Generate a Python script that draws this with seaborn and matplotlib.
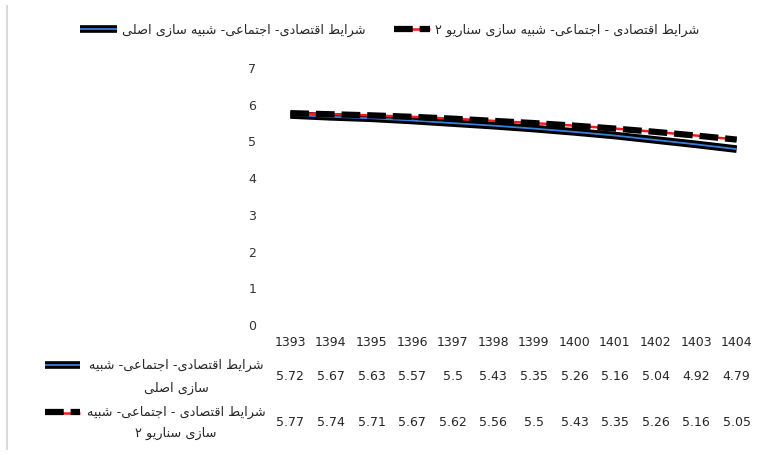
import matplotlib
matplotlib.use("Agg")
import matplotlib.pyplot as plt
import seaborn as sns
import pandas as pd
from matplotlib.lines import Line2D
from matplotlib.legend_handler import HandlerTuple
from matplotlib.transforms import blended_transform_factory

years = ["1393", "1394", "1395", "1396", "1397", "1398",
         "1399", "1400", "1401", "1402", "1403", "1404"]
base_values = [5.72, 5.67, 5.63, 5.57, 5.5, 5.43, 5.35, 5.26, 5.16, 5.04, 4.92, 4.79]
scenario_values = [5.77, 5.74, 5.71, 5.67, 5.62, 5.56, 5.5, 5.43, 5.35, 5.26, 5.16, 5.05]
y_ticks = [0, 1, 2, 3, 4, 5, 6, 7]

base_name = "شرایط اقتصادی- اجتماعی- شبیه سازی اصلی"
scenario_name = "شرایط اقتصادی - اجتماعی- شبیه سازی سناریو ۲"
base_label_lines = ["شرایط اقتصادی- اجتماعی- شبیه", "سازی اصلی"]
scenario_label_lines = ["شرایط اقتصادی - اجتماعی- شبیه", "سازی سناریو ۲"]

# matplotlib has no arabic shaping, so pick the joined glyph forms by hand
# (isolated, final, initial, medial)
FORMS = {
    "ا": ("\uFE8D", "\uFE8E"),
    "د": ("\uFEA9", "\uFEAA"),
    "ر": ("\uFEAD", "\uFEAE"),
    "ز": ("\uFEAF", "\uFEB0"),
    "و": ("\uFEED", "\uFEEE"),
    "ب": ("\uFE8F", "\uFE90", "\uFE91", "\uFE92"),
    "ت": ("\uFE95", "\uFE96", "\uFE97", "\uFE98"),
    "ج": ("\uFE9D", "\uFE9E", "\uFE9F", "\uFEA0"),
    "س": ("\uFEB1", "\uFEB2", "\uFEB3", "\uFEB4"),
    "ش": ("\uFEB5", "\uFEB6", "\uFEB7", "\uFEB8"),
    "ص": ("\uFEB9", "\uFEBA", "\uFEBB", "\uFEBC"),
    "ط": ("\uFEC1", "\uFEC2", "\uFEC3", "\uFEC4"),
    "ع": ("\uFEC9", "\uFECA", "\uFECB", "\uFECC"),
    "ق": ("\uFED5", "\uFED6", "\uFED7", "\uFED8"),
    "ل": ("\uFEDD", "\uFEDE", "\uFEDF", "\uFEE0"),
    "م": ("\uFEE1", "\uFEE2", "\uFEE3", "\uFEE4"),
    "ن": ("\uFEE5", "\uFEE6", "\uFEE7", "\uFEE8"),
    "ه": ("\uFEE9", "\uFEEA", "\uFEEB", "\uFEEC"),
    "ی": ("\uFBFC", "\uFBFD", "\uFBFE", "\uFBFF"),
}


def shape(s):  # logical persian string -> visual order with joined forms
    out = []
    for i, c in enumerate(s):
        if c not in FORMS:
            out.append(c)
            continue
        f = FORMS[c]
        prev = s[i - 1] if i > 0 else ""
        nxt = s[i + 1] if i + 1 < len(s) else ""
        jp = prev in FORMS and len(FORMS[prev]) == 4
        jn = len(f) == 4 and nxt in FORMS
        if jp and jn:
            out.append(f[3])
        elif jn:
            out.append(f[2])
        elif jp:
            out.append(f[1])
        else:
            out.append(f[0])
    return "".join(reversed(out))


sns.set_style("white")
plt.rcParams["font.family"] = ["DejaVu Sans"]
plt.rcParams["lines.solid_capstyle"] = "butt"
plt.rcParams["lines.dash_capstyle"] = "butt"

df = pd.DataFrame({"pos": range(len(years)), "base": base_values, "scenario": scenario_values})

fig = plt.figure(figsize=(7.65, 4.55), dpi=100)
ax = fig.add_axes([270 / 765, 1 - 325 / 455, 487 / 765, 257 / 455])

blue = "#3b7ddd"
red = "#ff1a1a"
dash = (0, (3, 1.1))
sns.lineplot(data=df, x="pos", y="base", color="black", lw=5.5, ax=ax)
h_base_black = ax.lines[-1]
sns.lineplot(data=df, x="pos", y="base", color=blue, lw=1.3, ax=ax)
h_base_blue = ax.lines[-1]
sns.lineplot(data=df, x="pos", y="scenario", color=red, lw=1.8, ax=ax)
h_sc_red = ax.lines[-1]
sns.lineplot(data=df, x="pos", y="scenario", color="black", lw=4.5, linestyle=dash, ax=ax)
h_sc_black = ax.lines[-1]

ax.set_xlim(-0.5, len(years) - 0.5)
ax.set_ylim(0, 7)
ax.set_yticks(y_ticks)
ax.set_yticklabels([str(t) for t in y_ticks], fontsize=9, color="#333333")
ax.set_xticks([])
ax.set_xlabel("")
ax.set_ylabel("")
ax.tick_params(axis="y", length=0, pad=10)
sns.despine(ax=ax, left=True, bottom=True)

# data table under the chart
trans = blended_transform_factory(ax.transData, fig.transFigure)
for i, y in enumerate(years):
    ax.text(i, 1 - 342 / 455, y, transform=trans, ha="center", va="center", fontsize=9)
    ax.text(i, 1 - 377 / 455, str(base_values[i]), transform=trans, ha="center", va="center", fontsize=9)
    ax.text(i, 1 - 423 / 455, str(scenario_values[i]), transform=trans, ha="center", va="center", fontsize=9)

for txt, yy in zip(base_label_lines, [365, 388]):
    fig.text(176 / 765, 1 - yy / 455, shape(txt), ha="center", va="center", fontsize=9.3)
for txt, yy in zip(scenario_label_lines, [412, 433]):
    fig.text(176 / 765, 1 - yy / 455, shape(txt), ha="center", va="center", fontsize=9.3)

# row keys
fig.add_artist(Line2D([45 / 765, 80 / 765], [1 - 365 / 455] * 2, color="black", lw=5.5))
fig.add_artist(Line2D([45 / 765, 80 / 765], [1 - 365 / 455] * 2, color=blue, lw=1.3))
fig.add_artist(Line2D([45 / 765, 80 / 765], [1 - 413 / 455] * 2, color=red, lw=1.8))
fig.add_artist(Line2D([45 / 765, 80 / 765], [1 - 412 / 455] * 2, color="black", lw=4.5, linestyle=dash))

# left border line
fig.add_artist(Line2D([7 / 765, 7 / 765], [1 - 5 / 455, 1 - 450 / 455], color="#d9d9d9", lw=1.5))

leg = fig.legend([(h_base_black, h_base_blue), (h_sc_red, h_sc_black)],
                 [shape(base_name), shape(scenario_name)],
                 handler_map={tuple: HandlerTuple(ndivide=1)},
                 loc="center", bbox_to_anchor=(390 / 765, 1 - 30 / 455), ncol=2,
                 frameon=False, fontsize=9.3, handlelength=2.8, columnspacing=2.2,
                 handletextpad=0.4)

fig.savefig("out.png", dpi=100)
